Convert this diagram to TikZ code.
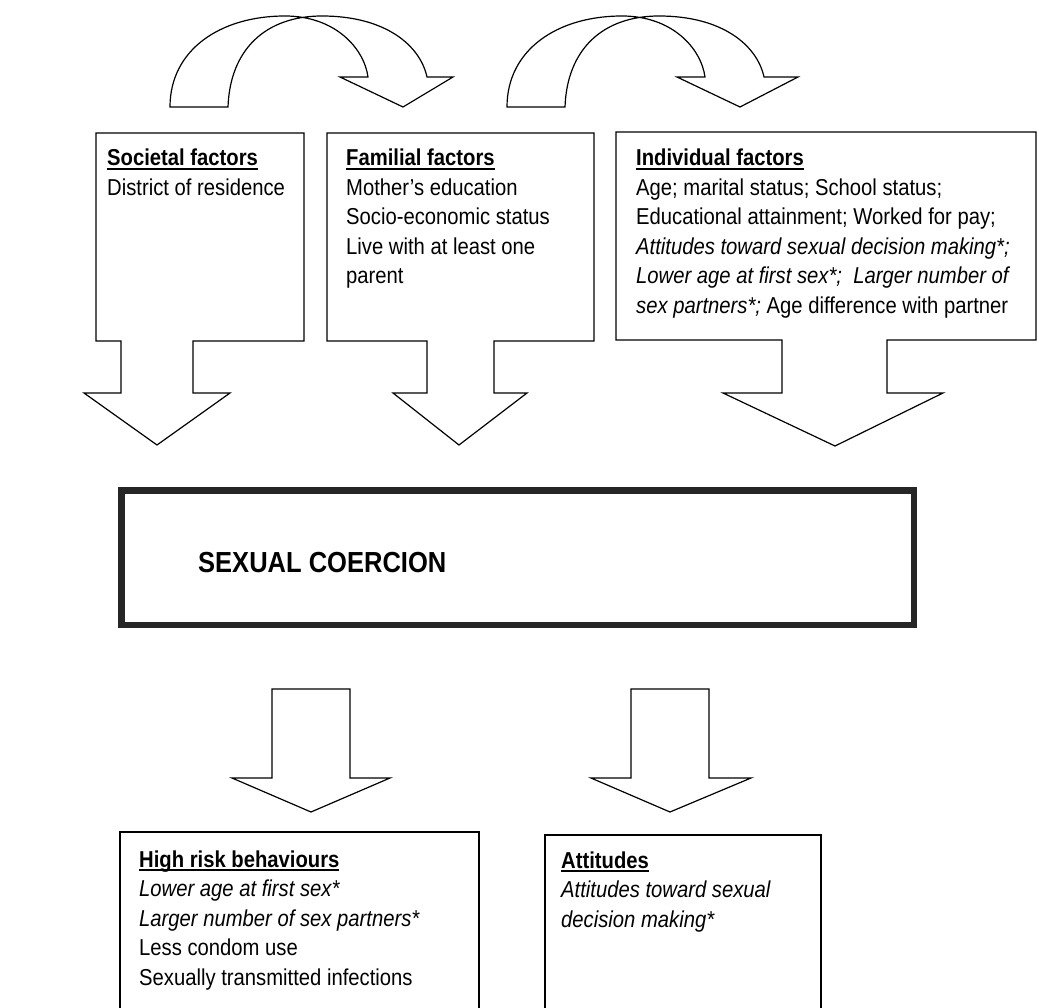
\documentclass[tikz,border=0pt]{standalone}
\usepackage{fontspec}
\setmainfont[FakeStretch=0.88]{Liberation Sans}
\newsavebox\hdrbox
\newcommand\uhead[1]{\leavevmode\sbox\hdrbox{\bfseries #1}\rlap{\rule[-3.6pt]{\wd\hdrbox}{1.4pt}}\usebox\hdrbox}
\tikzset{
  blockline/.style={draw=black, line width=1.2pt, line join=miter, fill=white},
  boxtext/.style={anchor=base west, inner sep=0pt, font=\fontsize{23}{29.5}\selectfont},
  coerline/.style={draw=black!85, line width=6.5pt, line join=miter},
}
% #1 = x of the right corner of the arrow head
\newcommand\curvedarrow[1]{%
  (170,107) .. controls (170,50) and (220,16) .. (285,16)
            .. controls (335,16) and (364,48) .. (368,77)
  -- (340,77) -- (403,107) -- (#1,77) -- (427,77)
  .. controls (420,45) and (385,16) .. (322,16)
  .. controls (265,16) and (230,50) .. (228,107) -- cycle}
\begin{document}
\begin{tikzpicture}[x=1pt,y=-1pt]
\useasboundingbox (0,0) rectangle (1039,1008);
\clip (0,0) rectangle (1039,1008);
\fill[white] (0,0) rectangle (1039,1008);

% top curved arrows
\draw[blockline] \curvedarrow{453};
\begin{scope}[xshift=337pt]
\draw[blockline] \curvedarrow{461};
\end{scope}

% factor boxes with down arrows
\draw[blockline] (96,133) -- (304,133) -- (304,341) -- (193,341) -- (193,393) -- (230,393)
  -- (157,445) -- (84,393) -- (121,393) -- (121,341) -- (96,341) -- cycle;
\draw[blockline] (327,133) -- (594,133) -- (594,341) -- (494,341) -- (494,393) -- (527,393)
  -- (459,445) -- (393,393) -- (427,393) -- (427,341) -- (327,341) -- cycle;
\draw[blockline] (616,132) -- (1036,132) -- (1036,340) -- (887,340) -- (887,393) -- (943,393)
  -- (835,446) -- (723,393) -- (782,393) -- (782,340) -- (616,340) -- cycle;

\node[boxtext] (soc) at (107,166) {\parbox[t]{190pt}{\raggedright
  \uhead{Societal factors}\\
  District of residence}};
\node[boxtext] (fam) at (346,166) {\parbox[t]{240pt}{\raggedright
  \uhead{Familial factors}\\
  Mother’s education\\
  Socio-economic status\\
  Live with at least one\\
  parent}};
\node[boxtext] (ind) at (636,166) {\parbox[t]{420pt}{\raggedright
  \uhead{Individual factors}\\
  Age; marital status; School status;\\
  Educational attainment; Worked for pay;\\
  \textit{Attitudes toward sexual decision making*;}\\
  \textit{Lower age at first sex*;\ \ Larger number of}\\
  \textit{sex partners*;} Age difference with partner}};

% central box
\draw[coerline] (121.25,490.25) rectangle (913.75,624.75);
\node[anchor=base west, inner sep=0pt, font=\fontsize{29}{34}\selectfont\bfseries] (coer) at (198,572) {SEXUAL COERCION};

% bottom arrows
\draw[blockline] (272,689) -- (350,689) -- (350,778) -- (390,778) -- (311,812) -- (232,778) -- (272,778) -- cycle;
\draw[blockline] (631,689) -- (709,689) -- (709,778) -- (751,778) -- (670,812) -- (591,778) -- (631,778) -- cycle;

% outcome boxes
\draw[blockline, fill=none] (120,1012) -- (120,832) -- (479,832) -- (479,1012);
\draw[blockline, fill=none] (545,1012) -- (545,835) -- (821,835) -- (821,1012);

\node[boxtext] (risk) at (139,867) {\parbox[t]{330pt}{\raggedright
  \uhead{High risk behaviours}\\
  \textit{Lower age at first sex*}\\
  \textit{Larger number of sex partners*}\\
  Less condom use\\
  Sexually transmitted infections}};
\node[boxtext] (att) at (561,868) {\parbox[t]{250pt}{\raggedright
  \uhead{Attitudes}\\
  \textit{Attitudes toward sexual}\\
  \textit{decision making*}}};
\end{tikzpicture}
\end{document}
